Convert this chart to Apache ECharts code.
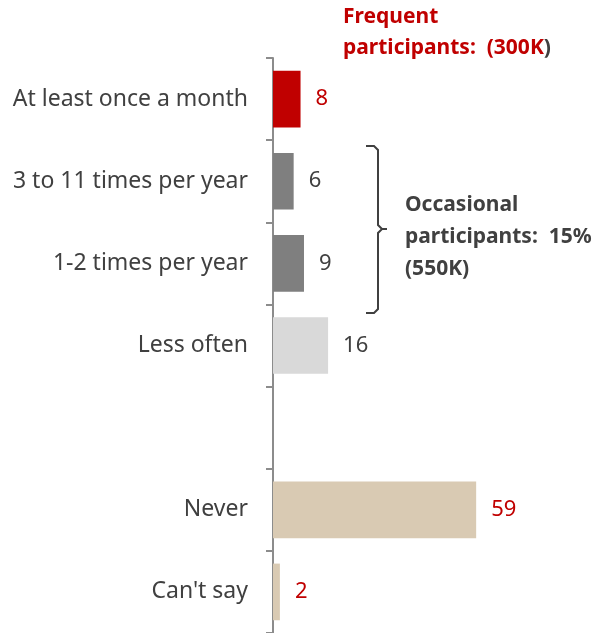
<!DOCTYPE html>
<html><head><meta charset="utf-8">
<script src="https://cdn.jsdelivr.net/npm/echarts@6/dist/echarts.min.js"></script>
<style>html,body{margin:0;padding:0;background:#fff}#c{width:607px;height:633px}</style>
</head><body><div id="c"></div>
<script>
const categories = ['At least once a month','3 to 11 times per year','1-2 times per year','Less often','','Never',"Can't say"];
const values = [8, 6, 9, 16, null, 59, 2];
const barColors = ['#C00000','#7F7F7F','#7F7F7F','#D9D9D9','#D9D9D9','#D9CAB3','#D9CAB3'];
const labelColors = ['#C00000','#404040','#404040','#404040','#404040','#C00000','#C00000'];

const FONT = 'Noto Sans';
const chart = echarts.init(document.getElementById('c'), null, {renderer:'canvas'});
chart.setOption({
  animation:false,
  grid:{left:273, top:58, right:0, height:578, containLabel:false},
  xAxis:{type:'value', min:0, max:97, show:false},
  yAxis:{type:'category', data:categories, inverse:true,
    axisLine:{show:true, lineStyle:{color:'#8C8C8C', width:2}},
    axisTick:{show:true, length:7, lineStyle:{color:'#8C8C8C', width:2}},
    axisLabel:{color:'#404040', fontSize:23, fontFamily:FONT, margin:25}
  },
  series:[{type:'bar', barCategoryGap:'31%',
    data: values.map((v,i)=>({value:v, itemStyle:{color:barColors[i]},
      label:{color:labelColors[i]}})),
    label:{show:true, position:'right', distance:15, fontSize:22, fontFamily:FONT}
  }],
  graphic:[
    {type:'text', left:343, top:7, style:{
      text:'{r|Frequent}\n{r|participants:  (300K}{g|)}',
      rich:{r:{fill:'#C00000', font:'bold 21px '+FONT, lineHeight:31},
            g:{fill:'#404040', font:'bold 21px '+FONT, lineHeight:31}}}},
    {type:'polyline', shape:{points:[[366,146],[374,146],[378,150],[378,225],[382,229],[387,229],[382,229],[378,233],[378,309],[374,313],[366,313]]},
      style:{stroke:'#404040', lineWidth:2, fill:null}},
    {type:'text', left:405, top:189, style:{
      text:'Occasional\nparticipants:  15%\n(550K)', fill:'#404040',
      font:'bold 21px '+FONT, lineHeight:32}}
  ]
});
</script></body></html>
